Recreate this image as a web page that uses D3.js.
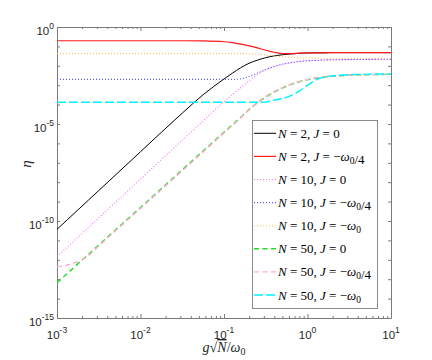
<!DOCTYPE html>
<html>
<head>
<meta charset="utf-8">
<script src="https://cdn.jsdelivr.net/npm/d3@7"></script>
<style>
  body { margin: 0; background: #fff; }
  svg { display: block; }
</style>
</head>
<body>
<div class="container"></div>
<script>
// log10 of g*sqrt(N)/omega0 where the curves were read
const logG = [-3, -2.875, -2.75, -2.625, -2.5, -2, -1.5, -1.25, -1, -0.9, -0.8, -0.7, -0.6,
              -0.5, -0.4, -0.3, -0.2, -0.1, 0, 0.1, 0.2, 0.3, 0.5, 1];

// log10(eta) for each curve
const etaN2J0 = [-10.43, -9.93, -9.43, -8.93, -8.43, -6.43, -4.44, -3.49, -2.68, -2.38, -2.10, -1.87, -1.71,
                 -1.58, -1.49, -1.43, -1.39, -1.36, -1.34, -1.33, -1.33, -1.32, -1.32, -1.32];
const etaN2J4 = [-0.71, -0.71, -0.71, -0.71, -0.71, -0.71, -0.71, -0.72, -0.76, -0.81, -0.88, -0.97, -1.08,
                 -1.20, -1.30, -1.37, -1.37, -1.35, -1.34, -1.33, -1.33, -1.32, -1.32, -1.32];
const etaN10J0 = [-11.84, -11.34, -10.84, -10.34, -9.84, -7.84, -5.84, -4.84, -3.85, -3.48, -3.13, -2.78, -2.45,
                  -2.20, -2.04, -1.92, -1.84, -1.78, -1.74, -1.72, -1.70, -1.69, -1.68, -1.66];
const etaN10J4 = [-2.70, -2.70, -2.70, -2.70, -2.70, -2.70, -2.70, -2.70, -2.70, -2.70, -2.68, -2.55, -2.38,
                  -2.19, -2.04, -1.92, -1.84, -1.78, -1.74, -1.72, -1.70, -1.69, -1.68, -1.66];
const etaN10J1 = [-1.37, -1.37, -1.37, -1.37, -1.37, -1.37, -1.37, -1.37, -1.37, -1.37, -1.37, -1.38, -1.40,
                  -1.44, -1.49, -1.53, -1.56, -1.58, -1.60, -1.60, -1.61, -1.61, -1.61, -1.61];
const etaN50J0 = [-13.18, -12.70, -12.21, -11.73, -11.24, -9.30, -7.36, -6.39, -5.42, -5.04, -4.65, -4.26, -3.90,
                  -3.61, -3.36, -3.15, -2.97, -2.82, -2.72, -2.64, -2.58, -2.54, -2.49, -2.44];
const etaN50J4 = [-12.36, -12.27, -12.10, -11.79, -11.29, -9.35, -7.41, -6.44, -5.46, -5.08, -4.68, -4.27, -3.89,
                  -3.58, -3.33, -3.12, -2.95, -2.81, -2.71, -2.63, -2.57, -2.53, -2.48, -2.44];
const etaN50J1 = [-3.88, -3.88, -3.88, -3.88, -3.88, -3.88, -3.88, -3.88, -3.88, -3.88, -3.88, -3.88, -3.88,
                  -3.87, -3.77, -3.69, -3.54, -3.31, -3.01, -2.73, -2.58, -2.52, -2.46, -2.42];

const seriesLabels = ["N = 2, J = 0", "N = 2, J = \u2212\u03c9_0/4", "N = 10, J = 0", "N = 10, J = \u2212\u03c9_0/4",
                      "N = 10, J = \u2212\u03c9_0", "N = 50, J = 0", "N = 50, J = \u2212\u03c9_0/4", "N = 50, J = \u2212\u03c9_0"];
const seriesValues = [etaN2J0, etaN2J4, etaN10J0, etaN10J4, etaN10J1, etaN50J0, etaN50J4, etaN50J1];

const xTickExp = [-3, -2, -1, 0, 1];
const yTickExp = [-15, -10, -5, 0];

// line styles (same order as the series)
const colors = ["#000000", "#ff1a1a", "#ff70ff", "#5a5aff", "#ffc45c", "#22dd22", "#ffadd0", "#00f0ff"];
const dashes = [null, null, "1,2", "1,2", "1,2", "5,3.5", "5,3.5", "9,3"];
const widths = [1, 1.2, 1.1, 1.1, 1.1, 1.4, 1.4, 1.4];

const w = 432, h = 360;
const pLeft = 57, pRight = 391, pTop = 27, pBottom = 318;

const x = d3.scaleLog().domain([1e-3, 1e1]).range([pLeft, pRight]);
const y = d3.scaleLog().domain([1e-15, 1]).range([pBottom, pTop]);

const svg = d3.select(".container").append("svg")
  .attr("width", w).attr("height", h);

svg.append("defs").append("clipPath").attr("id", "clip")
  .append("rect").attr("x", pLeft).attr("y", pTop)
  .attr("width", pRight - pLeft).attr("height", pBottom - pTop);

/* ticks: inward, on all four sides */
const xMinor = [];
for (let e = -3; e < 1; e++) for (let m = 2; m <= 9; m++) xMinor.push(m * Math.pow(10, e));
const xMajor = xTickExp.map(e => Math.pow(10, e));
const yAll = d3.range(-15, 1).map(e => Math.pow(10, e));

const axisColor = "#7a7a7a";
function styleAxis(g) {
  g.selectAll("path, line").attr("stroke", axisColor);
  g.selectAll("text").remove();
}
svg.append("g").attr("transform", `translate(0,${pBottom})`)
  .call(d3.axisBottom(x).tickValues(xMajor).tickSizeInner(-4).tickSizeOuter(0).tickFormat("")).call(styleAxis);
svg.append("g").attr("transform", `translate(0,${pBottom})`)
  .call(d3.axisBottom(x).tickValues(xMinor).tickSizeInner(-2).tickSizeOuter(0).tickFormat("")).call(styleAxis)
  .select(".domain").remove();
svg.append("g").attr("transform", `translate(0,${pTop})`)
  .call(d3.axisTop(x).tickValues(xMajor).tickSizeInner(-4).tickSizeOuter(0).tickFormat("")).call(styleAxis);
svg.append("g").attr("transform", `translate(0,${pTop})`)
  .call(d3.axisTop(x).tickValues(xMinor).tickSizeInner(-2).tickSizeOuter(0).tickFormat("")).call(styleAxis)
  .select(".domain").remove();
svg.append("g").attr("transform", `translate(${pLeft},0)`)
  .call(d3.axisLeft(y).tickValues(yAll).tickSizeInner(-3).tickSizeOuter(0).tickFormat("")).call(styleAxis);
svg.append("g").attr("transform", `translate(${pRight},0)`)
  .call(d3.axisRight(y).tickValues(yAll).tickSizeInner(-3).tickSizeOuter(0).tickFormat("")).call(styleAxis);

/* tick labels 10^e */
const tickLab = svg.append("g").attr("font-family", "Liberation Sans, Arial, sans-serif")
  .attr("font-size", 11.5).attr("fill", "#262626");
xTickExp.forEach(e => {
  const t = tickLab.append("text").attr("x", x(Math.pow(10, e))).attr("y", pBottom + 21)
    .attr("text-anchor", "middle");
  t.append("tspan").text("10");
  t.append("tspan").attr("dy", -6).attr("font-size", 8.5).text(e < 0 ? "-" + (-e) : e);
});
yTickExp.forEach(e => {
  const t = tickLab.append("text").attr("x", pLeft - 3).attr("y", y(Math.pow(10, e)) + 8)
    .attr("text-anchor", "end");
  t.append("tspan").text("10");
  t.append("tspan").attr("dy", -6).attr("font-size", 8.5).text(e < 0 ? "-" + (-e) : e);
});

/* axis titles */
const xt = svg.append("text").attr("x", (pLeft + pRight) / 2).attr("y", 352)
  .attr("text-anchor", "middle").attr("font-family", "Liberation Serif, serif")
  .attr("font-size", 14).attr("fill", "#262626");
xt.append("tspan").attr("font-style", "italic").text("g");
xt.append("tspan").text("\u221a");
xt.append("tspan").attr("font-style", "italic").attr("text-decoration", "overline").text("N");
xt.append("tspan").text("/");
xt.append("tspan").attr("font-style", "italic").text("\u03c9");
xt.append("tspan").attr("dy", 3).attr("font-size", 10).text("0");

svg.append("text").attr("transform", "translate(31,164) rotate(-90)")
  .attr("text-anchor", "middle").attr("font-family", "Liberation Serif, serif")
  .attr("font-style", "italic").attr("font-size", 15).attr("fill", "#262626").text("\u03b7");

/* curves */
const line = d3.line()
  .x((d, i) => x(Math.pow(10, logG[i])))
  .y(d => y(Math.pow(10, d)))
  .curve(d3.curveMonotoneX);

svg.append("g").attr("clip-path", "url(#clip)")
  .selectAll("path").data(seriesValues).enter().append("path")
  .attr("d", d => line(d))
  .attr("fill", "none")
  .attr("stroke", (d, i) => colors[i])
  .attr("stroke-width", (d, i) => widths[i])
  .attr("stroke-dasharray", (d, i) => dashes[i]);

/* legend */
const lg = svg.append("g");
lg.append("rect").attr("x", 252.5).attr("y", 120.5).attr("width", 125).attr("height", 188)
  .attr("fill", "#fff").attr("stroke", "#8a8a8a").attr("stroke-width", 1);

function mathText(sel, str) {
  for (let k = 0; k < str.length; k++) {
    const c = str[k];
    if (c === "_") {
      sel.append("tspan").attr("dy", 3).attr("font-size", 9.5).text(str[k + 1]);
      sel.append("tspan").attr("dy", -3).text("");
      k++;
    } else if ("NJ\u03c9".includes(c)) {
      sel.append("tspan").attr("font-style", "italic").text(c);
    } else {
      sel.append("tspan").text(c);
    }
  }
}

seriesLabels.forEach((lab, i) => {
  const cy = 133.3 + i * 23.1;
  lg.append("line").attr("x1", 254).attr("x2", 276).attr("y1", cy).attr("y2", cy)
    .attr("stroke", colors[i]).attr("stroke-width", widths[i])
    .attr("stroke-dasharray", dashes[i]);
  const t = lg.append("text").attr("x", 278).attr("y", cy + 4.5)
    .attr("font-family", "Liberation Serif, serif").attr("font-size", 13)
    .attr("fill", "#000").style("white-space", "pre");
  mathText(t, lab);
});
</script>
</body>
</html>
